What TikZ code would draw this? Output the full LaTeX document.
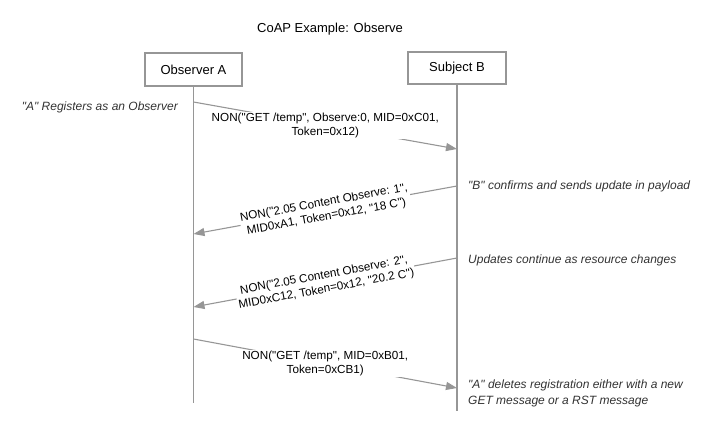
\documentclass[tikz,border=0pt]{standalone}
\usepackage{fontspec}
\setmainfont{Liberation Sans}[Ligatures=TeXOff]
\usepackage{tikz}
\usetikzlibrary{arrows.meta}
\definecolor{linegray}{RGB}{150,150,150}
\definecolor{notegray}{RGB}{50,50,50}

\begin{document}
\begin{tikzpicture}[x=1pt, y=-1pt,
	lifebox/.style={draw=linegray, line width=1.1pt, minimum width=97pt, minimum height=33pt, inner sep=0pt, font=\fontsize{13}{15}\selectfont},
	life/.style={draw=linegray, line width=1.1pt},
	msg/.style={draw=linegray, line width=1.1pt, -{Triangle[length=11pt, width=8pt]}},
	msgtext/.style={fill=white, align=center, inner sep=1pt, font=\fontsize{11.7}{14}\selectfont},
	note/.style={font=\itshape\fontsize{12}{16}\selectfont, text=notegray, align=left, inner sep=0pt}]
	% frame
	\useasboundingbox (0,0) rectangle (703,430);
	% title
	\node[font=\fontsize{13}{15}\selectfont] (title) at (330,29) {CoAP Example: Observe};
	% boxes
	\node[lifebox] (obsA) at (193.5,69.5) {Observer A};
	\node[lifebox, minimum width=98pt, minimum height=32pt] (subB) at (457,68) {Subject B};
	% lifelines
	\coordinate (endA) at (193.5,403);
	\coordinate (endB) at (457,411);
	\draw[life] (obsA) -- (endA);
	\draw[life] (subB) -- (endB);
	% message ends
	\coordinate (a1) at (193.5,102);
	\coordinate (b1) at (457,149);
	\coordinate (b2) at (457,186);
	\coordinate (a2) at (193.5,234);
	\coordinate (b3) at (457,258);
	\coordinate (a3) at (193.5,307);
	\coordinate (a4) at (193.5,339);
	\coordinate (b4) at (457,388);
	% messages
	\draw[msg] (a1) -- node[msgtext] (m1) {NON("GET /temp", Observe:0, MID=0xC01,\\Token=0x12)} (b1);
	\draw[msg] (b2) -- node[msgtext, sloped] (m2) {NON("2.05 Content Observe: 1",\\MID0xA1, Token=0x12, "18 C")} (a2);
	\draw[msg] (b3) -- node[msgtext, sloped] (m3) {NON("2.05 Content Observe: 2",\\MID0xC12, Token=0x12, "20.2 C")} (a3);
	\draw[msg] (a4) -- node[msgtext] (m4) {NON("GET /temp", MID=0xB01,\\Token=0xCB1)} (b4);
	% labels
	\node[note, anchor=east] (n1) at (178,107) {"A" Registers as an Observer};
	\node[note, anchor=west] (n2) at (468,186) {"B" confirms and sends update in payload};
	\node[note, anchor=west] (n3) at (468,260) {Updates continue as resource changes};
	\node[note, anchor=west] (n4) at (468,393) {"A" deletes registration either with a new\\GET message or a RST message};
\end{tikzpicture}
\end{document}
